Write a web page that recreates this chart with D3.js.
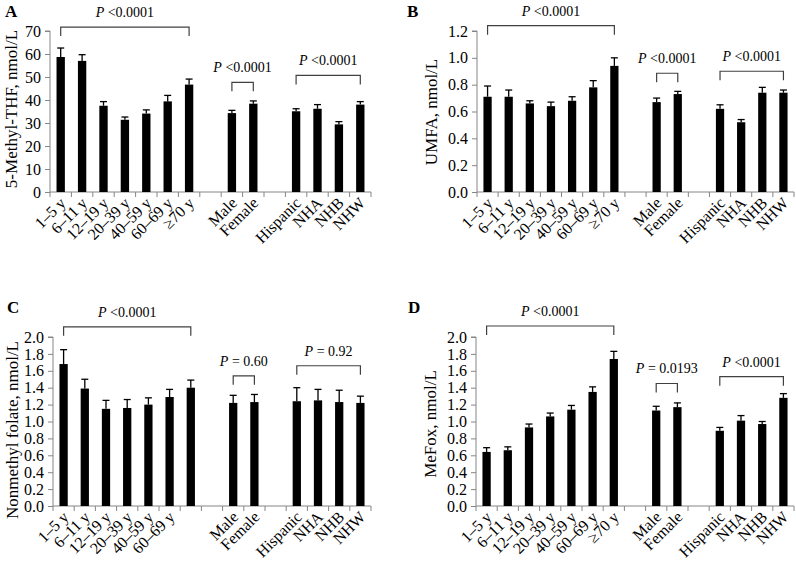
<!DOCTYPE html>
<html><head><meta charset="utf-8">
<script src="https://cdn.jsdelivr.net/npm/d3@7"></script>
<style>
html,body{margin:0;padding:0;background:#fff;}
svg text{font-family:"Liberation Serif","Times New Roman",serif;fill:#000;}
</style></head>
<body><svg id="c" width="796" height="563"></svg>
<script>
// ---- data ----
const ageLabels = ["1–5 y","6–11 y","12–19 y","20–39 y","40–59 y","60–69 y","≥70 y"];
const ageLabelsC = ["1–5 y","6–11 y","12–19 y","20–39 y","40–59 y","60–69 y",""];
const sexLabels = ["Male","Female"];
const raceLabels = ["Hispanic","NHA","NHB","NHW"];

const methylTHF    = [58.7,57.0,37.5,31.4,34.1,39.4,46.7, 34.3,38.4, 35.1,36.2,29.4,38.0];
const methylTHFErr = [3.9,2.7,1.8,1.2,1.6,2.6,2.4, 1.2,1.2, 1.1,1.8,1.2,1.3];
const umfa         = [0.71,0.71,0.66,0.64,0.68,0.78,0.94, 0.67,0.73, 0.62,0.52,0.74,0.74];
const umfaErr      = [0.08,0.05,0.02,0.03,0.03,0.05,0.06, 0.03,0.02, 0.03,0.02,0.04,0.02];
const nonmethyl    = [1.68,1.39,1.15,1.16,1.20,1.29,1.40, 1.22,1.23, 1.24,1.25,1.23,1.22];
const nonmethylErr = [0.17,0.11,0.10,0.10,0.08,0.09,0.09, 0.09,0.09, 0.16,0.13,0.14,0.08];
const mefox        = [0.64,0.66,0.93,1.06,1.14,1.35,1.74, 1.13,1.17, 0.89,1.01,0.97,1.28];
const mefoxErr     = [0.05,0.04,0.04,0.04,0.05,0.06,0.09, 0.05,0.05, 0.04,0.06,0.03,0.05];

const yTicksA = [0,10,20,30,40,50,60,70];
const yTicksB = [0,0.2,0.4,0.6,0.8,1.0,1.2];
const yTicksCD = [0,0.2,0.4,0.6,0.8,1.0,1.2,1.4,1.6,1.8,2.0];

const pLabelsA = ["<0.0001","<0.0001","<0.0001"];
const pLabelsB = ["<0.0001","<0.0001","<0.0001"];
const pLabelsC = ["<0.0001","= 0.60","= 0.92"];
const pLabelsD = ["<0.0001","= 0.0193","<0.0001"];
// bracket heights in data units (age, sex, race)
const bracketA = [71.7,47.7,50.7];
const bracketB = [1.24,0.885,0.90];
const bracketC = [2.12,1.54,1.66];
const bracketD = [2.13,1.45,1.53];

// ---- layout ----
const panels = [
  {letter:"A", lx:5, ly:17, x0:50, x1:371, y0:192, y1:31, title:"5-Methyl-THF, nmol/L", tdx:33, tcy:109,
   vals:methylTHF, errs:methylTHFErr, ticks:yTicksA, fmt:d3.format("d"), ages:ageLabels, p:pLabelsA, br:bracketA},
  {letter:"B", lx:407, ly:17, x0:477, x1:794, y0:192, y1:31, title:"UMFA, nmol/L", tdx:40, tcy:112,
   vals:umfa, errs:umfaErr, ticks:yTicksB, fmt:d3.format(".1f"), ages:ageLabels, p:pLabelsB, br:bracketB},
  {letter:"C", lx:7, ly:313, x0:53, x1:371, y0:506, y1:337, title:"Nonmethyl folate, nmol/L", tdx:35, tcy:430,
   vals:nonmethyl, errs:nonmethylErr, ticks:yTicksCD, fmt:d3.format(".1f"), ages:ageLabelsC, p:pLabelsC, br:bracketC},
  {letter:"D", lx:408, ly:313, x0:476, x1:794, y0:506, y1:337, title:"MeFox, nmol/L", tdx:40, tcy:424,
   vals:mefox, errs:mefoxErr, ticks:yTicksCD, fmt:d3.format(".1f"), ages:ageLabels, p:pLabelsD, br:bracketD}
];

const svg = d3.select("#c");
const axisCol = "#868686", brCol = "#404040";

panels.forEach(P => {
  const g = svg.append("g");
  const slotKeys = [...ageLabels.map((d,i)=>"a"+i), "gap1", ...sexLabels.map((d,i)=>"s"+i), "gap2", ...raceLabels.map((d,i)=>"r"+i)];
  const catKeys = slotKeys.filter(k => !k.startsWith("gap"));
  const catLabels = [...P.ages, ...sexLabels, ...raceLabels];
  const x = d3.scaleBand().domain(slotKeys).range([P.x0, P.x1]).paddingInner(0).paddingOuter(0);
  const ymax = P.ticks[P.ticks.length-1];
  const y = d3.scaleLinear().domain([0, ymax]).range([P.y0, P.y1]);
  const cx = k => x(k) + x.bandwidth()/2;
  const bw = x.bandwidth()*0.39;

  // panel letter
  g.append("text").attr("x", P.lx).attr("y", P.ly).attr("font-size", 17).attr("font-weight", "bold").text(P.letter);

  // y axis
  const ya = d3.axisLeft(y).tickValues(P.ticks).tickFormat(P.fmt).tickSize(5).tickPadding(4);
  const yg = g.append("g").attr("transform", `translate(${P.x0},0)`).call(ya);
  yg.select(".domain").attr("stroke", axisCol).attr("d", `M-5,${P.y1}H0V${P.y0}`);
  yg.selectAll(".tick line").attr("stroke", axisCol);
  yg.selectAll(".tick text").attr("font-size", 16).attr("font-family", '"Liberation Serif","Times New Roman",serif').attr("fill", "#000");

  // y title
  g.append("text").attr("transform", `translate(${P.x0 - P.tdx},${P.tcy}) rotate(-90)`)
    .attr("text-anchor", "middle").attr("font-size", 17).text(P.title);

  // x axis line and ticks
  g.append("line").attr("x1", P.x0).attr("x2", P.x1).attr("y1", P.y0).attr("y2", P.y0).attr("stroke", axisCol);
  const bounds = slotKeys.map(k => x(k)).concat([P.x1]);
  g.selectAll(".xt").data(bounds).join("line").attr("class","xt")
    .attr("x1", d=>d).attr("x2", d=>d).attr("y1", P.y0).attr("y2", P.y0+5).attr("stroke", axisCol);

  // bars
  const data = catKeys.map((k,i) => ({k, v:P.vals[i], e:P.errs[i], label:catLabels[i]}));
  g.selectAll(".bar").data(data).join("rect").attr("class","bar")
    .attr("x", d => cx(d.k) - bw/2).attr("width", bw)
    .attr("y", d => y(d.v)).attr("height", d => P.y0 - y(d.v)).attr("fill", "#000");
  // error bars
  g.selectAll(".eb").data(data).join("line").attr("class","eb")
    .attr("x1", d=>cx(d.k)).attr("x2", d=>cx(d.k)).attr("y1", d=>y(d.v)).attr("y2", d=>y(d.v+d.e))
    .attr("stroke", "#000").attr("stroke-width", 1.3);
  g.selectAll(".ec").data(data).join("line").attr("class","ec")
    .attr("x1", d=>cx(d.k)-3.5).attr("x2", d=>cx(d.k)+3.5).attr("y1", d=>y(d.v+d.e)).attr("y2", d=>y(d.v+d.e))
    .attr("stroke", "#000").attr("stroke-width", 1.3);

  // x labels
  g.selectAll(".xl").data(data).join("text").attr("class","xl")
    .attr("transform", d => `translate(${cx(d.k)+6},${P.y0+12}) rotate(-45)`)
    .attr("text-anchor", "end").attr("font-size", 16).text(d => d.label);

  // brackets
  const groups = [["a0","a6"],["s0","s1"],["r0","r3"]];
  groups.forEach((gr, i) => {
    const xa = cx(gr[0]), xb = cx(gr[1]);
    const yt = y(P.br[i]);
    g.append("path").attr("d", `M${xa},${yt+9}V${yt}H${xb}V${yt+9}`)
      .attr("fill", "none").attr("stroke", brCol).attr("stroke-width", 1.2);
    const t = g.append("text").attr("x", (xa+xb)/2).attr("y", yt - 10).attr("text-anchor", "middle").attr("font-size", 14);
    t.append("tspan").attr("font-style", "italic").text("P");
    t.append("tspan").text(" " + P.p[i]);
  });
});
</script></body></html>
